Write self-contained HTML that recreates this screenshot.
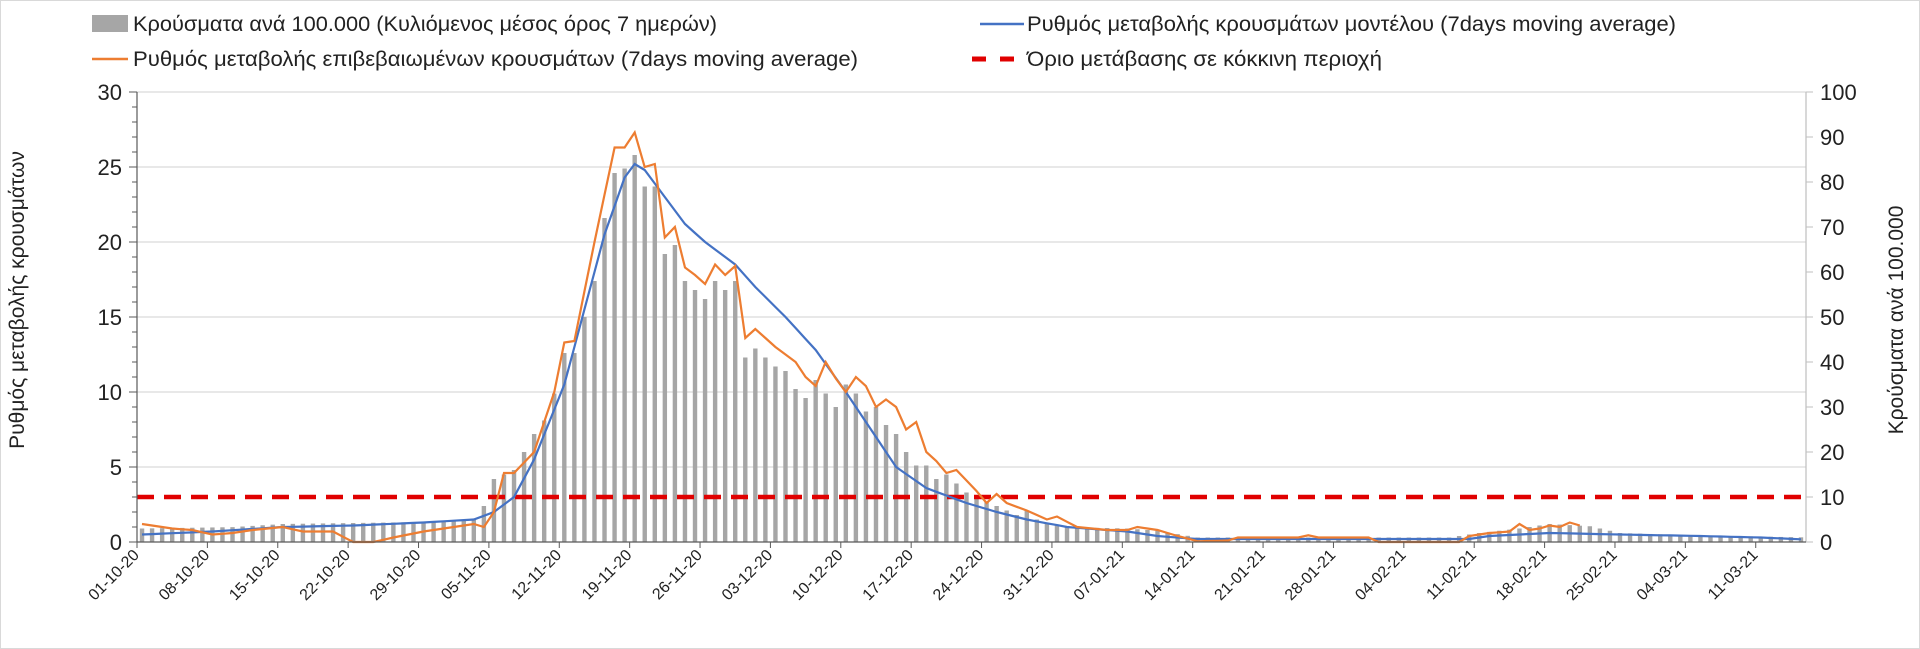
<!DOCTYPE html>
<html><head><meta charset="utf-8"><style>
html,body{margin:0;padding:0;background:#fff;}
svg{display:block;font-family:"Liberation Sans","DejaVu Sans",sans-serif;}
</style></head><body>
<svg id="c" width="1920" height="649" viewBox="0 0 1920 649" xmlns="http://www.w3.org/2000/svg">
<rect x="0.5" y="0.5" width="1919" height="648" fill="#fff" stroke="#d9d9d9"/>
<g font-size="21" fill="#222">
<rect x="92" y="15" width="36" height="17" fill="#a6a6a6"/>
<text x="133" y="31" textLength="584" lengthAdjust="spacingAndGlyphs">Κρούσματα ανά 100.000 (Κυλιόμενος μέσος όρος 7 ημερών)</text>
<line x1="92" y1="59" x2="128" y2="59" stroke="#ed7d31" stroke-width="2.5"/>
<text x="133" y="66" textLength="725" lengthAdjust="spacingAndGlyphs">Ρυθμός μεταβολής επιβεβαιωμένων κρουσμάτων (7days moving average)</text>
<line x1="980" y1="24" x2="1024" y2="24" stroke="#4472c4" stroke-width="2.5"/>
<text x="1027" y="31" textLength="649" lengthAdjust="spacingAndGlyphs">Ρυθμός μεταβολής κρουσμάτων μοντέλου (7days moving average)</text>
<line x1="972" y1="59" x2="1024" y2="59" stroke="#e00000" stroke-width="5" stroke-dasharray="14 14"/>
<text x="1027" y="66" textLength="355" lengthAdjust="spacingAndGlyphs">Όριο μετάβασης σε κόκκινη περιοχή</text>
</g>
<g id="grid"></g>
<g id="bars" fill="#a6a6a6"></g>
<g id="lines"></g>
<g id="axes"></g>
<text transform="translate(24,300) rotate(-90)" text-anchor="middle" font-size="21" fill="#222">Ρυθμός μεταβολής κρουσμάτων</text>
<text transform="translate(1903,320) rotate(-90)" text-anchor="middle" font-size="21" fill="#222">Κρούσματα ανά 100.000</text>
</svg>
<script>
var NS="http://www.w3.org/2000/svg";
function el(p,t,a,txt){var e=document.createElementNS(NS,t);for(var k in a)e.setAttribute(k,a[k]);if(txt!=null)e.textContent=txt;document.getElementById(p).appendChild(e);return e;}
var X0=137,X1=1806,N=166,W=(X1-X0)/N,Y0=542,PX=15;
function x(d){return X0+(d+0.5)*W;}
function yl(v){return Y0-v*PX;}
function yr(v){return Y0-v*4.5;}
function D(m,n){return {O:n-1,N:30+n,D:60+n,J:91+n,F:122+n,M:150+n}[m];}
function interp(keys,d){for(var i=0;i<keys.length-1;i++){if(d>=keys[i][0]&&d<=keys[i+1][0]){var t=(d-keys[i][0])/(keys[i+1][0]-keys[i][0]||1);return keys[i][1]+t*(keys[i+1][1]-keys[i][1]);}}return null;}
function K(a){return a.map(function(p){return [D(p[0],p[1]),p[2]];});}
for(var v=5;v<=30;v+=5){el("grid","line",{x1:X0,x2:X1,y1:yl(v),y2:yl(v),stroke:"#d9d9d9","stroke-width":1.3});}
var blue=K([["O",1,0.5],["O",8,0.7],["O",15,1.0],["O",22,1.1],["O",29,1.3],["N",3,1.5],["N",5,2],["N",7,3],["N",9,5.5],["N",12,10.5],["N",14,15.5],["N",16,20.5],["N",18,24.3],["N",19,25.2],["N",20,24.8],["N",22,23],["N",24,21.2],["N",26,20],["N",29,18.5],["D",1,17],["D",4,15],["D",7,12.8],["D",10,10],["D",13,7],["D",15,5],["D",18,3.6],["D",22,2.6],["D",25,2],["D",28,1.5],["J",1,1],["J",7,0.7],["J",10,0.4],["J",14,0.2],["F",10,0.2],["F",12,0.4],["F",18,0.6],["F",25,0.5],["M",5,0.4],["M",11,0.3],["M",16,0.15]]);
var orange=K([["O",1,1.2],["O",4,0.9],["O",6,0.8],["O",8,0.5],["O",10,0.6],["O",12,0.8],["O",15,1.0],["O",17,0.7],["O",20,0.7],["O",22,0.0],["O",24,0.0],["O",26,0.3],["O",29,0.7],["N",1,1.0],["N",3,1.2],["N",4,1.0],["N",5,2],["N",6,4.6],["N",7,4.6],["N",9,6],["N",11,10],["N",12,13.3],["N",13,13.4],["N",15,20],["N",17,26.3],["N",18,26.3],["N",19,27.3],["N",20,25],["N",21,25.2],["N",22,20.3],["N",23,21],["N",24,18.3],["N",25,17.8],["N",26,17.2],["N",27,18.5],["N",28,17.8],["N",29,18.4],["N",30,13.6],["D",1,14.2],["D",3,13],["D",5,12],["D",6,11],["D",7,10.4],["D",8,12],["D",9,10.9],["D",10,10],["D",11,11],["D",12,10.4],["D",13,9],["D",14,9.5],["D",15,9],["D",16,7.5],["D",17,8],["D",18,6],["D",19,5.4],["D",20,4.6],["D",21,4.8],["D",22,4.1],["D",23,3.4],["D",24,2.6],["D",25,3.2],["D",26,2.6],["D",28,2.1],["D",30,1.5],["D",31,1.7],["J",2,1.0],["J",5,0.8],["J",7,0.8],["J",8,1.0],["J",10,0.8],["J",12,0.4],["J",14,0.05],["J",17,0.1],["J",18,0.3],["J",24,0.3],["J",25,0.45],["J",26,0.3],["J",31,0.3],["F",1,0.0],["F",9,0.0],["F",10,0.4],["F",12,0.6],["F",14,0.7],["F",15,1.2],["F",16,0.8],["F",17,0.9],["F",18,1.1],["F",19,1.0],["F",20,1.3],["F",21,1.1]]);
var barsK=K([["O",1,3],["O",10,3.3],["O",15,4],["O",31,4.5],["N",3,5],["N",4,8],["N",5,14],["N",7,16],["N",8,20],["N",9,24],["N",10,27],["N",11,33],["N",12,42],["N",13,42],["N",14,50],["N",15,58],["N",16,72],["N",17,82],["N",18,83],["N",19,86],["N",20,79],["N",21,79],["N",22,64],["N",23,66],["N",24,58],["N",25,56],["N",26,54],["N",27,58],["N",28,56],["N",29,58],["N",30,41],["D",1,43],["D",2,41],["D",3,39],["D",4,38],["D",5,34],["D",6,32],["D",7,36],["D",8,33],["D",9,30],["D",10,35],["D",11,33],["D",12,29],["D",13,30],["D",14,26],["D",15,24],["D",16,20],["D",17,17],["D",18,17],["D",19,14],["D",20,15],["D",21,13],["D",22,11],["D",23,10],["D",24,9],["D",25,8],["D",26,7],["D",27,6],["D",28,7],["D",29,5],["D",30,4],["J",1,3.3],["J",7,3],["J",10,2.5],["J",14,1],["F",8,1],["F",11,2],["F",15,3],["F",18,4],["F",22,3.5],["F",25,2],["M",4,1.5],["M",16,1]]);
for(var d=0;d<N;d++){var bv=interp(barsK,d);if(bv==null)continue;var h=bv*4.5;el("bars","rect",{x:x(d)-2.2,y:Y0-h,width:4.4,height:h});}
function path(keys,last){var s="";for(var d=0;d<=last;d++){var v=interp(keys,d);if(v==null)continue;s+=(s?"L":"M")+x(d).toFixed(1)+","+yl(v).toFixed(1);}return s;}
el("lines","line",{x1:X0,x2:X1,y1:yl(3),y2:yl(3),stroke:"#e00000","stroke-width":4.5,"stroke-dasharray":"17 10"});
el("lines","path",{d:path(blue,N-1),fill:"none",stroke:"#4472c4","stroke-width":2.2});
el("lines","path",{d:path(orange,D("F",21)),fill:"none",stroke:"#ed7d31","stroke-width":2.2});
el("axes","line",{x1:X0,x2:X0,y1:92,y2:Y0,stroke:"#595959","stroke-width":1.2});
for(var v=0;v<=30;v++){el("axes","line",{x1:X0-(v%5?5:8),x2:X0,y1:yl(v),y2:yl(v),stroke:"#595959","stroke-width":1});}
for(var v=0;v<=30;v+=5){el("axes","text",{x:X0-15,y:yl(v)+8,"text-anchor":"end","font-size":22,fill:"#222"},String(v));}
el("axes","line",{x1:X1,x2:X1,y1:92,y2:Y0,stroke:"#bfbfbf","stroke-width":1.2});
for(var v=0;v<=100;v+=10){el("axes","line",{x1:X1,x2:X1+7,y1:yr(v),y2:yr(v),stroke:"#bfbfbf","stroke-width":1});el("axes","text",{x:X1+14,y:yr(v)+8,"font-size":22,fill:"#222"},String(v));}
el("axes","line",{x1:X0,x2:X1,y1:Y0,y2:Y0,stroke:"#595959","stroke-width":1.2});
var labs=["01-10-20","08-10-20","15-10-20","22-10-20","29-10-20","05-11-20","12-11-20","19-11-20","26-11-20","03-12-20","10-12-20","17-12-20","24-12-20","31-12-20","07-01-21","14-01-21","21-01-21","28-01-21","04-02-21","11-02-21","18-02-21","25-02-21","04-03-21","11-03-21"];
for(var i=0;i<labs.length;i++){var tx=X0+i*7*W;el("axes","line",{x1:tx,x2:tx,y1:Y0,y2:Y0+6,stroke:"#595959"});el("axes","text",{transform:"translate("+(tx+3)+","+(Y0+14)+") rotate(-45)","text-anchor":"end","font-size":16,fill:"#222"},labs[i]);}
</script>
</body></html>
